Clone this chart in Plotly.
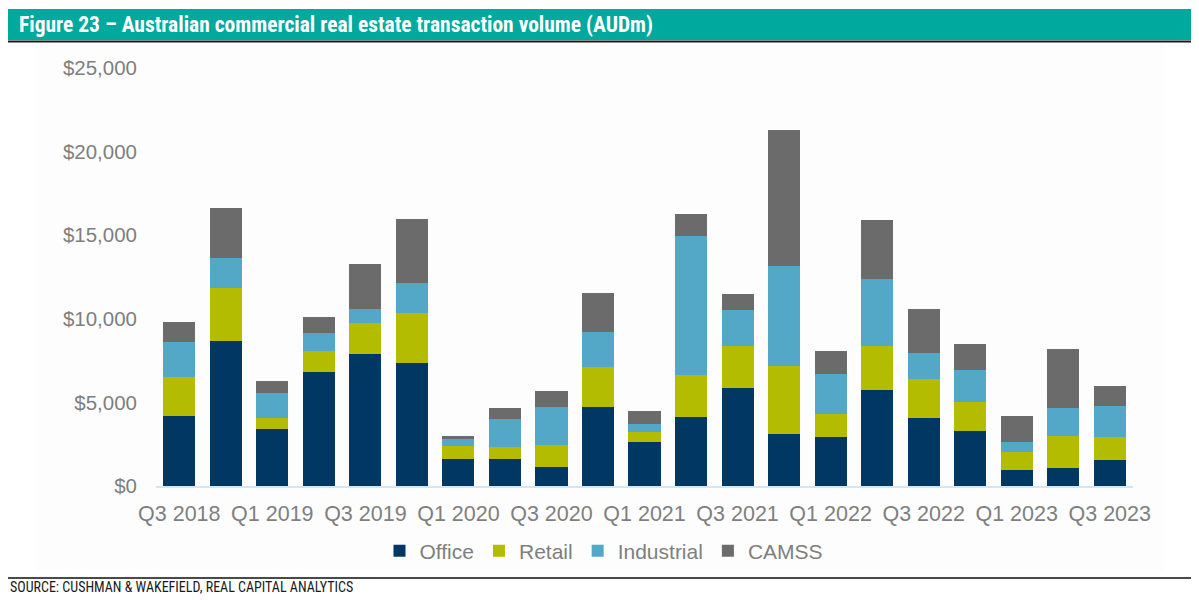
import plotly.graph_objects as go

quarters = ["Q3 2018", "Q4 2018", "Q1 2019", "Q2 2019", "Q3 2019", "Q4 2019",
            "Q1 2020", "Q2 2020", "Q3 2020", "Q4 2020", "Q1 2021", "Q2 2021",
            "Q3 2021", "Q4 2021", "Q1 2022", "Q2 2022", "Q3 2022", "Q4 2022",
            "Q1 2023", "Q2 2023", "Q3 2023"]
office = [4190, 8690, 3390, 6800, 7880, 7340, 1600, 1600, 1140, 4720, 2610,
          4110, 5890, 3100, 2960, 5750, 4090, 3270, 980, 1060, 1540]
retail = [2350, 3130, 695, 1273, 1849, 2987, 816, 732, 1312, 2396, 643,
          2540, 2494, 4106, 1358, 2634, 2291, 1735, 1035, 1954, 1390]
industrial = [2090, 1796, 1458, 1094, 856, 1830, 395, 1657, 2254, 2093, 437,
              8312, 2171, 5938, 2368, 4007, 1572, 1914, 640, 1632, 1878]
camss = [1195, 2990, 754, 957, 2691, 3810, 203, 699, 957, 2356, 819,
         1316, 957, 8175, 1417, 3528, 2614, 1573, 1513, 3547, 1172]

series_names = ["Office", "Retail", "Industrial", "CAMSS"]
series_values = [office, retail, industrial, camss]
colors = ["#003763", "#B4BC00", "#52A8C6", "#6A6B6A"]

y_ticks = [0, 5000, 10000, 15000, 20000, 25000]
y_ticktext = ["$0", "$5,000", "$10,000", "$15,000", "$20,000", "$25,000"]
x_ticks = quarters[::2]

title_text = "Figure 23 – Australian commercial real estate transaction volume (AUDm)"
source_text = "SOURCE: CUSHMAN & WAKEFIELD, REAL CAPITAL ANALYTICS"

W, H = 1199, 600
OFF = 8  # default page body margin
L, R, T, B = 148, 74, 60, 122
PW, PH = W - L - R, H - T - B


def sx(x):
    return (x - OFF - L) / PW


def sy(y):
    return (H - B - (y - OFF)) / PH


fig = go.Figure()
for name, vals, col in zip(series_names, series_values, colors):
    fig.add_trace(go.Bar(x=quarters, y=vals, name=name,
                         marker=dict(color=col, line=dict(width=0))))

grey = "#7F7F7F"
xfont = dict(family="Liberation Sans, Arial", size=21.5, color=grey)
yfont = dict(family="Liberation Sans, Arial", size=20.5, color=grey)
lfont = dict(family="Liberation Sans, Arial", size=21, color=grey)
cond = "Liberation Sans Narrow, Roboto Condensed, Roboto, Liberation Sans"

fig.update_layout(
    width=W, height=H,
    barmode="stack", bargap=0.31,
    paper_bgcolor="white", plot_bgcolor="rgba(0,0,0,0)",
    margin=dict(l=L, r=R, t=T, b=B, pad=0),
    showlegend=True,
    legend=dict(orientation="h", x=sx(604), xanchor="center", y=sy(551),
                yanchor="middle", font=lfont, traceorder="normal",
                itemwidth=30, bgcolor="rgba(0,0,0,0)"),
    xaxis=dict(type="category", categoryorder="array", categoryarray=quarters,
               tickmode="array", tickvals=x_ticks, ticktext=x_ticks,
               tickfont=xfont, showgrid=False, zeroline=False,
               showline=True, linecolor="#D3E6F7", linewidth=2,
               ticks="", ticklabelstandoff=7, range=[-0.5, 20.5]),
    yaxis=dict(range=[0, 25000], tickmode="array", tickvals=y_ticks,
               ticktext=y_ticktext, tickfont=yfont, showgrid=False,
               zeroline=False, showline=False, ticks="", ticklabelstandoff=18),
    shapes=[
        dict(type="rect", xref="paper", yref="paper", layer="below",
             x0=sx(35), x1=sx(1165), y0=sy(570), y1=sy(45),
             fillcolor="#FDFDFD", line=dict(width=0)),
        dict(type="rect", xref="paper", yref="paper",
             x0=sx(8), x1=sx(1192), y0=sy(40), y1=sy(9),
             fillcolor="#00A99D", line=dict(width=0)),
        dict(type="line", xref="paper", yref="paper",
             x0=sx(8), x1=sx(1192), y0=sy(41.5), y1=sy(41.5),
             line=dict(color="#1A1A1A", width=2)),
        dict(type="line", xref="paper", yref="paper",
             x0=sx(8), x1=sx(1192), y0=sy(578), y1=sy(578),
             line=dict(color="#4A4A4A", width=2)),
    ],
    annotations=[
        dict(text="<b>" + title_text + "</b>", xref="paper", yref="paper",
             x=sx(17), y=sy(25), xanchor="left", yanchor="middle",
             showarrow=False, font=dict(family=cond, size=21.5, color="white")),
        dict(text=source_text, xref="paper", yref="paper",
             x=sx(8), y=sy(587), xanchor="left", yanchor="middle",
             showarrow=False, font=dict(family=cond, size=14, color="#1A1A1A")),
    ],
)

fig.write_html("out.html")
